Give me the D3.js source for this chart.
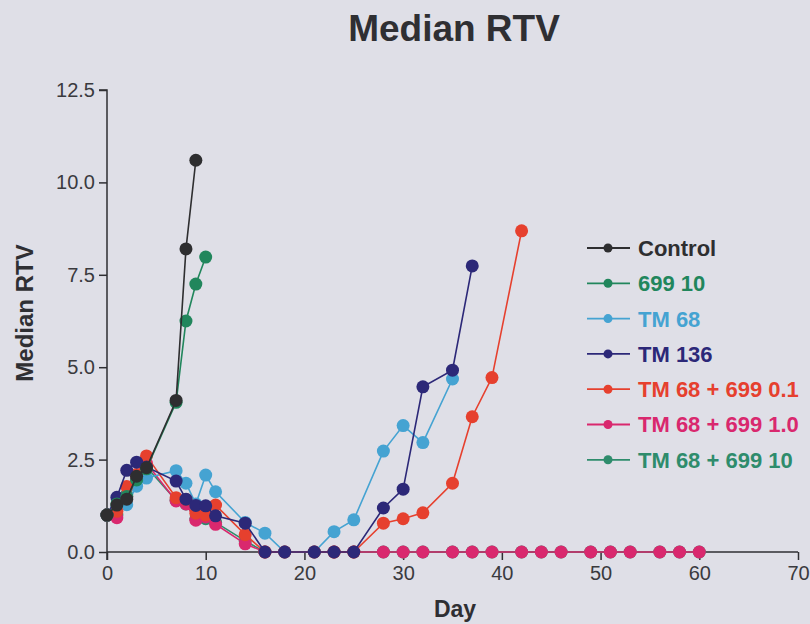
<!DOCTYPE html>
<html>
<head>
<meta charset="utf-8">
<script src="https://cdn.jsdelivr.net/npm/d3@7"></script>
<style>
  html, body { margin: 0; padding: 0; background: #dfdfe7; }
  svg { display: block; }
  text { font-family: "Liberation Sans", Arial, Helvetica, sans-serif; }
</style>
</head>
<body>
<svg id="chart" width="810" height="624"></svg>
<script>
// Median relative tumour volume per treatment group, by day
const seriesNames = ["Control", "699 10", "TM 68", "TM 136", "TM 68 + 699 0.1", "TM 68 + 699 1.0", "TM 68 + 699 10"];
const seriesColors = ["#2e2e30", "#21865c", "#45a3d2", "#2c2878", "#e6402e", "#d9286e", "#2e8c6c"];

const controlDays = [0, 1, 2, 3, 4, 7, 8, 9];
const controlRTV  = [1.0, 1.27, 1.43, 2.05, 2.28, 4.1, 8.2, 10.6];

const cmpd699Days = [0, 1, 2, 3, 4, 7, 8, 9, 10];
const cmpd699RTV  = [1.0, 1.3, 1.5, 1.95, 2.25, 4.05, 6.25, 7.25, 7.98];

const tm68Days = [0, 1, 2, 3, 4, 7, 8, 9, 10, 11, 14, 16, 18, 21, 23, 25, 28, 30, 32, 35];
const tm68RTV  = [1.0, 1.2, 1.28, 1.78, 2.0, 2.2, 1.86, 1.3, 2.08, 1.63, 0.8, 0.51, 0, 0, 0.55, 0.87, 2.73, 3.42, 2.96, 4.68];

const tm136Days = [0, 1, 2, 3, 4, 7, 8, 9, 10, 11, 14, 16, 18, 21, 23, 25, 28, 30, 32, 35, 37];
const tm136RTV  = [1.0, 1.48, 2.21, 2.43, 2.3, 1.92, 1.43, 1.26, 1.25, 0.98, 0.78, 0, 0, 0, 0, 0, 1.19, 1.7, 4.47, 4.92, 7.74];

const combo01Days = [0, 1, 2, 3, 4, 7, 8, 9, 10, 11, 14, 16, 18, 21, 23, 25, 28, 30, 32, 35, 37, 39, 42];
const combo01RTV  = [1.0, 1.1, 1.77, 2.1, 2.6, 1.47, 1.42, 1.05, 1.0, 1.27, 0.47, 0, 0, 0, 0, 0, 0.78, 0.9, 1.06, 1.86, 3.66, 4.72, 8.69];

const combo10Days = [0, 1, 2, 3, 4, 7, 8, 9, 10, 11, 14, 16, 18, 21, 23, 25, 28, 30, 32, 35, 37, 39, 42, 44, 46, 49, 51, 53, 56, 58, 60];
const combo10RTV  = [1.0, 0.93, 1.5, 2.0, 2.4, 1.38, 1.3, 0.86, 0.95, 0.75, 0.22, 0, 0, 0, 0, 0, 0, 0, 0, 0, 0, 0, 0, 0, 0, 0, 0, 0, 0, 0, 0];

const combo100Days = [0, 1, 2, 3, 4, 7, 8, 9, 10, 11, 14, 16, 18, 21, 23, 25, 28, 30, 32, 35, 37, 39, 42, 44, 46, 49, 51, 53, 56, 58, 60];
const combo100RTV  = [1.0, 1.0, 1.55, 1.95, 2.3, 1.4, 1.3, 0.9, 0.9, 0.8, 0.3, 0, 0, 0, 0, 0, 0, 0, 0, 0, 0, 0, 0, 0, 0, 0, 0, 0, 0, 0, 0];

const xTicks = [0, 10, 20, 30, 40, 50, 60, 70];
const yTicks = [0, 2.5, 5.0, 7.5, 10.0, 12.5];

const seriesDays = [controlDays, cmpd699Days, tm68Days, tm136Days, combo01Days, combo10Days, combo100Days];
const seriesRTV  = [controlRTV, cmpd699RTV, tm68RTV, tm136RTV, combo01RTV, combo10RTV, combo100RTV];

// Paint order (bottom to top)
const drawOrder = [6, 5, 2, 4, 3, 1, 0];

const svg = d3.select("#chart");
const ink = "#2f2f33";

const x = d3.scaleLinear().domain([0, 70]).range([107, 798]);
const y = d3.scaleLinear().domain([0, 12.5]).range([552, 90]);

// Title
svg.append("text")
  .attr("x", 454).attr("y", 41)
  .attr("text-anchor", "middle")
  .attr("font-size", 37).attr("font-weight", "bold")
  .attr("fill", ink)
  .text("Median RTV");

// Axes
const yAxis = svg.append("g")
  .attr("transform", `translate(${x(0)},0)`)
  .call(d3.axisLeft(y).tickValues(yTicks).tickFormat(d3.format(".1f")).tickSize(8).tickPadding(4));

const xAxis = svg.append("g")
  .attr("transform", `translate(0,${y(0)})`)
  .call(d3.axisBottom(x).tickValues(xTicks).tickFormat(d3.format("d")).tickSize(8).tickPadding(6));

[yAxis, xAxis].forEach(g => {
  g.select(".domain").attr("stroke", ink).attr("stroke-width", 1.5);
  g.selectAll(".tick line").attr("stroke", ink).attr("stroke-width", 1.5);
  g.selectAll(".tick text").attr("fill", "#3a3a3e").attr("font-size", 20)
    .attr("font-family", "'Liberation Sans', Arial, sans-serif");
});
// y axis continues down to the x tick length
yAxis.select(".domain").attr("d", `M-8,${y(12.5)}H0V${y(0) + 8}`);
xAxis.select(".domain").attr("d", `M${x(0)},0H${x(70)}`);

// Axis titles
svg.append("text")
  .attr("transform", `translate(33,313) rotate(-90)`)
  .attr("text-anchor", "middle")
  .attr("font-size", 24).attr("font-weight", "bold")
  .attr("fill", ink)
  .text("Median RTV");

svg.append("text")
  .attr("x", 455).attr("y", 617)
  .attr("text-anchor", "middle")
  .attr("font-size", 23).attr("font-weight", "bold")
  .attr("fill", ink)
  .text("Day");

// Series
const line = d3.line().x(d => x(d[0])).y(d => y(d[1]));
const plot = svg.append("g");

drawOrder.forEach(i => {
  const pts = seriesDays[i].map((d, k) => [d, seriesRTV[i][k]]);
  const g = plot.append("g");
  g.append("path")
    .attr("d", line(pts))
    .attr("fill", "none")
    .attr("stroke", seriesColors[i])
    .attr("stroke-width", 1.6);
  g.selectAll("circle").data(pts).join("circle")
    .attr("cx", d => x(d[0]))
    .attr("cy", d => y(d[1]))
    .attr("r", 6.5)
    .attr("fill", seriesColors[i]);
});

// Legend
const legend = svg.append("g");
seriesNames.forEach((name, i) => {
  const cy = 248 + i * 35.3;
  legend.append("line")
    .attr("x1", 587).attr("x2", 630).attr("y1", cy).attr("y2", cy)
    .attr("stroke", seriesColors[i]).attr("stroke-width", 1.8);
  legend.append("circle")
    .attr("cx", 608).attr("cy", cy).attr("r", 4.5)
    .attr("fill", seriesColors[i]);
  legend.append("text")
    .attr("x", 638).attr("y", cy)
    .attr("dy", "0.36em")
    .attr("font-size", 22).attr("font-weight", "bold")
    .attr("fill", seriesColors[i])
    .text(name);
});
</script>
</body>
</html>
